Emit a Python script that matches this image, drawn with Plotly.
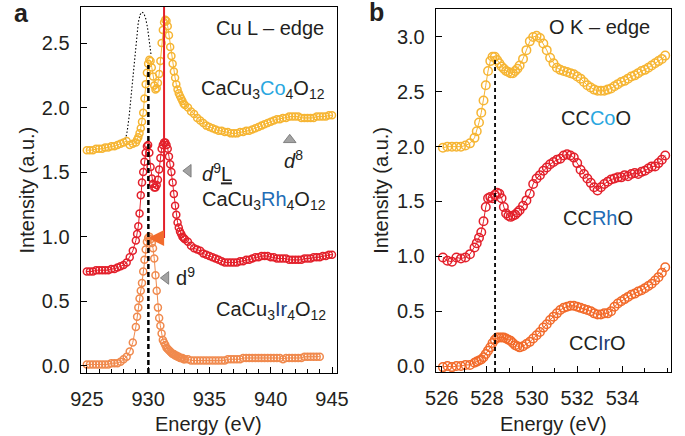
import plotly.graph_objects as go

# ---------------- Panel a : Cu L-edge ----------------
cu_energy = [925.0, 925.25, 925.5, 925.75, 926.0, 926.25, 926.5, 926.75, 927.0, 927.25, 927.5, 927.75, 928.0, 928.25, 928.5, 928.75,
             929.0, 929.1, 929.2, 929.3, 929.4, 929.5, 929.6, 929.7, 929.8, 929.9,
             930.0, 930.1, 930.2, 930.3, 930.4, 930.5, 930.6, 930.7, 930.8, 930.9,
             931.0, 931.1, 931.2, 931.3, 931.4, 931.5, 931.6, 931.7, 931.8, 931.9,
             932.0, 932.1, 932.2, 932.3, 932.4, 932.5, 932.6, 932.7, 932.8, 932.9,
             933.0, 933.25, 933.5, 933.75, 934.0, 934.25, 934.5, 934.75, 935.0, 935.25,
             935.5, 935.75, 936.0, 936.25, 936.5, 936.75, 937.0, 937.25, 937.5, 937.75,
             938.0, 938.25, 938.5, 938.75, 939.0, 939.25, 939.5, 939.75, 940.0, 940.25,
             940.5, 940.75, 941.0, 941.25, 941.5, 941.75, 942.0, 942.25, 942.5, 942.75,
             943.0, 943.25, 943.5, 943.75, 944.0, 944.25, 944.5, 944.75, 945.0]

co_cu = [1.67, 1.67, 1.67, 1.68, 1.68, 1.68, 1.69, 1.69, 1.70, 1.70, 1.71, 1.72, 1.73, 1.74, 1.71, 1.72,
         1.73, 1.75, 1.77, 1.80, 1.84, 1.89, 1.96, 2.07, 2.18, 2.27,
         2.34, 2.37, 2.36, 2.31, 2.24, 2.17, 2.14, 2.15, 2.19, 2.26,
         2.36, 2.50, 2.60, 2.66, 2.68, 2.67, 2.63, 2.56, 2.47, 2.40,
         2.34, 2.28, 2.23, 2.18, 2.14, 2.11, 2.09, 2.07, 2.05, 2.03,
         2.02, 2.00, 1.97, 1.95, 1.92, 1.90, 1.88, 1.86, 1.85, 1.84,
         1.83, 1.82, 1.82, 1.81, 1.81, 1.80, 1.80, 1.80, 1.81, 1.81,
         1.82, 1.82, 1.83, 1.84, 1.85, 1.86, 1.87, 1.88, 1.89, 1.90,
         1.91, 1.91, 1.92, 1.92, 1.93, 1.93, 1.93, 1.93, 1.92, 1.92,
         1.92, 1.92, 1.92, 1.93, 1.93, 1.93, 1.93, 1.94, 1.94]

rh_cu = [0.73, 0.73, 0.73, 0.74, 0.74, 0.74, 0.74, 0.74, 0.75, 0.75, 0.76, 0.77, 0.78, 0.80, 0.84, 0.89,
         0.97, 1.02, 1.08, 1.18, 1.32, 1.42, 1.50, 1.58, 1.65, 1.70,
         1.71, 1.65, 1.54, 1.45, 1.41, 1.38, 1.38, 1.40, 1.44, 1.52,
         1.61, 1.68, 1.71, 1.73, 1.73, 1.71, 1.68, 1.62, 1.56, 1.50,
         1.42, 1.33, 1.24, 1.17, 1.11, 1.07, 1.04, 1.02, 1.00, 0.99,
         0.98, 0.96, 0.93, 0.91, 0.90, 0.89, 0.87, 0.86, 0.85, 0.84,
         0.83, 0.82, 0.81, 0.80, 0.80, 0.80, 0.80, 0.80, 0.81, 0.81,
         0.82, 0.82, 0.83, 0.84, 0.84, 0.85, 0.85, 0.85, 0.84, 0.84,
         0.83, 0.83, 0.83, 0.83, 0.82, 0.82, 0.82, 0.82, 0.82, 0.83,
         0.83, 0.83, 0.84, 0.84, 0.84, 0.85, 0.85, 0.86, 0.86]

ir_energy = cu_energy[:101]
ir_cu = [0.01, 0.01, 0.01, 0.01, 0.01, 0.01, 0.01, 0.01, 0.02, 0.02, 0.02, 0.03, 0.05, 0.07, 0.11, 0.18,
         0.30, 0.38, 0.45, 0.52, 0.58, 0.64, 0.73, 0.82, 0.90, 0.96,
         0.99, 1.00, 0.98, 0.95, 0.91, 0.83, 0.70, 0.58, 0.45, 0.37,
         0.31, 0.25, 0.20, 0.18, 0.16, 0.14, 0.13, 0.12, 0.11, 0.10,
         0.09, 0.09, 0.08, 0.08, 0.07, 0.07, 0.06, 0.06, 0.06, 0.05,
         0.05, 0.05, 0.04, 0.04, 0.04, 0.04, 0.04, 0.04, 0.04, 0.04,
         0.04, 0.04, 0.04, 0.04, 0.05, 0.05, 0.05, 0.05, 0.05, 0.06,
         0.06, 0.06, 0.06, 0.06, 0.06, 0.06, 0.06, 0.06, 0.06, 0.06,
         0.06, 0.06, 0.05, 0.06, 0.06, 0.06, 0.06, 0.06, 0.06, 0.07,
         0.07, 0.07, 0.07, 0.07, 0.07]

# thin dotted reference curve (panel a)
ref_energy = [928.15, 928.3, 928.45, 928.6, 928.75, 928.9, 929.05, 929.2, 929.35, 929.5, 929.65, 929.8, 929.95, 930.1, 930.25]
ref_cu = [1.75, 1.82, 1.93, 2.08, 2.25, 2.42, 2.56, 2.66, 2.72, 2.74, 2.73, 2.69, 2.62, 2.52, 2.40]

# ---------------- Panel b : O K-edge ----------------
o_energy = [526.05, 526.25, 526.45, 526.65, 526.85, 527.05, 527.25, 527.45,
            527.55, 527.65, 527.75, 527.85, 527.95, 528.05, 528.15, 528.25, 528.35, 528.45,
            528.55, 528.65, 528.75, 528.85, 528.95, 529.05, 529.15, 529.25, 529.35, 529.45,
            529.6, 529.75, 529.9, 530.05, 530.2, 530.35, 530.5, 530.65, 530.8, 530.95,
            531.1, 531.25, 531.4, 531.55, 531.7, 531.85, 532.0, 532.15, 532.3, 532.45,
            532.6, 532.75, 532.9, 533.05, 533.2, 533.35, 533.5, 533.65, 533.8, 533.95,
            534.1, 534.25, 534.4, 534.55, 534.7, 534.85, 535.0, 535.15, 535.3, 535.45,
            535.6, 535.75, 535.9]

co_o = [1.99, 2.00, 2.00, 2.00, 2.00, 2.01, 2.03, 2.08,
        2.14, 2.22, 2.31, 2.42, 2.56, 2.69, 2.78, 2.82, 2.82, 2.79,
        2.76, 2.73, 2.71, 2.69, 2.68, 2.67, 2.67, 2.69, 2.71, 2.74,
        2.80, 2.88, 2.96, 3.00, 3.01, 2.99, 2.94, 2.88, 2.81, 2.76,
        2.72, 2.70, 2.69, 2.68, 2.67, 2.66, 2.64, 2.62, 2.59, 2.56,
        2.54, 2.52, 2.51, 2.51, 2.51, 2.52, 2.53, 2.55, 2.57, 2.59,
        2.60, 2.62, 2.64, 2.65, 2.67, 2.69, 2.70, 2.72, 2.74, 2.76,
        2.78, 2.80, 2.83]

rh_o = [0.99, 0.96, 0.95, 0.99, 0.98, 0.99, 1.02, 1.08,
        1.12, 1.17, 1.22, 1.32, 1.45, 1.53, 1.54, 1.53, 1.56, 1.58,
        1.57, 1.53, 1.45, 1.39, 1.37, 1.36, 1.37, 1.38, 1.40, 1.42,
        1.46, 1.51, 1.57, 1.66, 1.71, 1.74, 1.78, 1.81, 1.84, 1.86,
        1.88, 1.89, 1.92, 1.93, 1.92, 1.90, 1.85, 1.79, 1.75, 1.71,
        1.67, 1.63, 1.60, 1.63, 1.66, 1.68, 1.70, 1.71, 1.72, 1.72,
        1.74, 1.73, 1.75, 1.76, 1.75, 1.77, 1.78, 1.80, 1.82, 1.82,
        1.85, 1.88, 1.92]

ir_o = [-0.01, 0.00, -0.01, 0.00, 0.00, 0.01, 0.01, 0.03,
        0.04, 0.05, 0.06, 0.08, 0.11, 0.14, 0.17, 0.21, 0.24, 0.26,
        0.26, 0.26, 0.26, 0.25, 0.24, 0.23, 0.21, 0.19, 0.18, 0.17,
        0.18, 0.20, 0.22, 0.25, 0.28, 0.31, 0.35, 0.38, 0.42, 0.45,
        0.48, 0.51, 0.53, 0.54, 0.55, 0.55, 0.54, 0.53, 0.52, 0.51,
        0.50, 0.48, 0.47, 0.47, 0.48, 0.48, 0.50, 0.54, 0.57, 0.59,
        0.61, 0.63, 0.65, 0.66, 0.68, 0.69, 0.71, 0.73, 0.75, 0.78,
        0.81, 0.85, 0.90]

# tick labels
a_xticks = [925, 930, 935, 940, 945]
a_yticks = [0.0, 0.5, 1.0, 1.5, 2.0, 2.5]
b_xticks = [526, 528, 530, 532, 534]
b_yticks = [0.0, 0.5, 1.0, 1.5, 2.0, 2.5, 3.0]

# ---------------- styling ----------------
YEL = "#F6B533"
RED = "#E3202B"
ORA_A = "#F08A4E"
ORA_B = "#F26A2A"
TXT = "#231F20"
FONT = "Arial, Liberation Sans, Helvetica, sans-serif"


def series(x, y, color, xa, ya, size, lw=1.5):
    return go.Scatter(x=x, y=y, mode="lines+markers", xaxis=xa, yaxis=ya,
                      line=dict(color=color, width=1),
                      marker=dict(symbol="circle-open", size=size, color=color,
                                  line=dict(color=color, width=lw)),
                      showlegend=False, hoverinfo="skip")


fig = go.Figure()
fig.add_trace(go.Scatter(x=ref_energy, y=ref_cu, mode="lines", xaxis="x", yaxis="y",
                         line=dict(color="black", width=1.1, dash="1.5px,2px"),
                         showlegend=False, hoverinfo="skip"))
fig.add_trace(series(cu_energy, co_cu, YEL, "x", "y", 7))
fig.add_trace(series(cu_energy, rh_cu, RED, "x", "y", 7))
fig.add_trace(series(ir_energy, ir_cu, ORA_A, "x", "y", 7))

fig.add_trace(series(o_energy, co_o, YEL, "x2", "y2", 8.5))
fig.add_trace(series(o_energy, rh_o, RED, "x2", "y2", 8.5))
fig.add_trace(series(o_energy, ir_o, ORA_B, "x2", "y2", 8.5))

# grey feature markers
tri = dict(color="#A3A3A3", line=dict(color="#6E6E6E", width=0.8))
fig.add_trace(go.Scatter(x=[941.55], y=[1.75], mode="markers", xaxis="x", yaxis="y",
                         marker=dict(symbol="triangle-up", size=11, **tri),
                         showlegend=False, hoverinfo="skip"))
fig.add_trace(go.Scatter(x=[933.28, 931.45], y=[1.51, 0.68], mode="markers", xaxis="x", yaxis="y",
                         marker=dict(symbol="triangle-left", size=11, **tri),
                         showlegend=False, hoverinfo="skip"))

a_yrange = [-0.0565, 2.779]
b_yrange = [-0.0547, 3.255]

axis_common = dict(showline=True, linecolor="black", linewidth=1.3, mirror=True,
                   ticks="inside", ticklen=6, tickwidth=1.2, tickcolor="black",
                   showgrid=False, zeroline=False,
                   tickfont=dict(family=FONT, size=20, color=TXT))

fig.update_layout(
    width=685, height=436,
    margin=dict(l=0, r=0, t=7, b=63),
    paper_bgcolor="white", plot_bgcolor="white",
    font=dict(family=FONT, size=20, color=TXT),
    xaxis=dict(domain=[72 / 685, 337 / 685], range=[924.5, 945.42], anchor="y",
               tickvals=a_xticks, ticklabelstandoff=8,
               minor=dict(dtick=1, ticks="inside", ticklen=4, tickcolor="black", tickwidth=1),
               **axis_common),
    yaxis=dict(domain=[0, 1], range=a_yrange, anchor="x",
               tickvals=a_yticks, tickformat=".1f", ticklabelstandoff=6, **axis_common),
    xaxis2=dict(domain=[439 / 685, 682 / 685], range=[525.74, 536.16], anchor="y2",
                tickvals=b_xticks, ticklabelstandoff=8,
                minor=dict(dtick=1, ticks="inside", ticklen=4, tickcolor="black", tickwidth=1),
                **axis_common),
    yaxis2=dict(domain=[1 / 366, 364 / 366], range=b_yrange, anchor="x2",
                tickvals=b_yticks, tickformat=".1f", ticklabelstandoff=6, **axis_common),
)

# vertical guide lines
fig.add_shape(type="line", xref="x", yref="y", x0=930.02, x1=930.02, y0=a_yrange[0], y1=2.33,
              line=dict(color="black", width=2.5, dash="5px,3px"))
fig.add_shape(type="line", xref="x", yref="y", x0=931.3, x1=931.3, y0=0.99, y1=a_yrange[1],
              line=dict(color=RED, width=2))
fig.add_shape(type="line", xref="x2", yref="y2", x0=528.36, x1=528.36, y0=b_yrange[0], y1=2.81,
              line=dict(color="black", width=1.8, dash="4px,3px"))

ann = []
# arrow
ann.append(dict(x=930.0, y=0.99, ax=931.3, ay=0.99, xref="x", yref="y", axref="x", ayref="y",
                showarrow=True, arrowhead=2, arrowsize=1.6, arrowwidth=2, arrowcolor="#F26B2C",
                text="", standoff=0))

def label(x, y, text, xref="x", yref="y", size=20, xanchor="center", yanchor="middle"):
    return dict(x=x, y=y, xref=xref, yref=yref, text=text, showarrow=False,
                xanchor=xanchor, yanchor=yanchor, font=dict(family=FONT, size=size, color=TXT))

CO = "#2AA7E0"
RH = "#1F6DB6"
IR = "#1D3C73"
ann += [
    label(939.97, 2.62, "Cu L – edge"),
    label(939.35, 2.14, f"CaCu<sub>3</sub><span style='color:{CO}'>Co</span><sub>4</sub>O<sub>12</sub>"),
    label(939.45, 1.28, f"CaCu<sub>3</sub><span style='color:{RH}'>Rh</span><sub>4</sub>O<sub>12</sub>"),
    label(940.05, 0.43, f"CaCu<sub>3</sub><span style='color:{IR}'>Ir</span><sub>4</sub>O<sub>12</sub>"),
    label(941.87, 1.60, "<i>d</i><sup>8</sup>"),
    label(934.2, 1.50, "<i>d</i><sup>9</sup><u>L</u>", xanchor="left"),
    label(932.1, 0.69, "d<sup>9</sup>", xanchor="left"),
    label(532.97, 3.09, "O K – edge", xref="x2", yref="y2"),
    label(532.84, 2.26, f"CC<span style='color:{CO}'>Co</span>O", xref="x2", yref="y2"),
    label(532.9, 1.35, f"CC<span style='color:{RH}'>Rh</span>O", xref="x2", yref="y2"),
    label(532.9, 0.21, f"CC<span style='color:{IR}'>Ir</span>O", xref="x2", yref="y2"),
    # axis titles
    label(17 / 685, 0.5, "Intensity (a.u.)", xref="paper", yref="paper"),
    label(382 / 685, 0.5, "Intensity (a.u.)", xref="paper", yref="paper"),
    label(204.5 / 685, -51 / 366, "Energy (eV)", xref="paper", yref="paper"),
    label(560.5 / 685, -51 / 366, "Energy (eV)", xref="paper", yref="paper"),
    # panel letters
    label(11 / 685, 360 / 366, "<b>a</b>", xref="paper", yref="paper", size=25),
    label(378 / 685, 361 / 366, "<b>b</b>", xref="paper", yref="paper", size=25),
]
ann[-6]["textangle"] = -90
ann[-5]["textangle"] = -90
fig.update_layout(annotations=ann)

fig.write_html("out.html", config={"displayModeBar": False},
               post_script="document.body.style.margin='0';document.body.style.padding='0';")
